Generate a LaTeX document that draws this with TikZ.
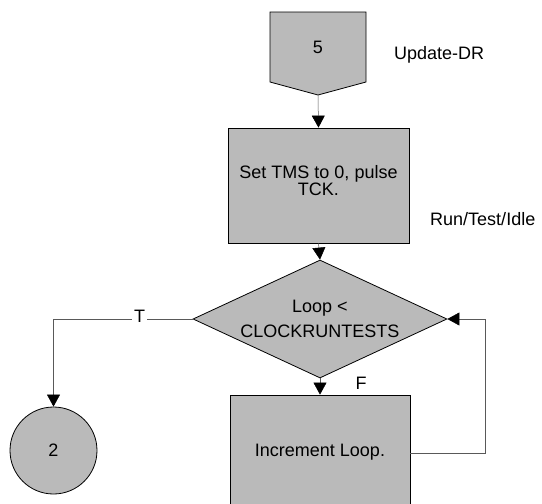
\documentclass[tikz,border=0pt]{standalone}
\usepackage{fontspec}
\setmainfont{Liberation Sans}
\usetikzlibrary{shapes.geometric,arrows.meta}
\tikzset{
  shade/.style={fill=black!27,draw=black,line width=0.8pt},
  procbox/.style={shade,rectangle,inner sep=0pt},
  decbox/.style={shade,diamond,aspect=2.15,inner sep=0pt,align=center},
  conbox/.style={shade,circle,inner sep=0pt},
  lbl/.style={font=\fontsize{18}{15}\selectfont,inner sep=0pt,align=center},
  conn/.style={draw=black!65,line width=0.5pt},
  arr/.style={conn,-{Triangle[length=12pt,width=13pt,fill=black,color=black]}}
}
\begin{document}
\begin{tikzpicture}[x=1pt,y=-1pt]
\useasboundingbox (0,0) rectangle (542,504);
% off-page connector 5
\draw[shade] (270,12) -- (366,12) -- (366,82) -- (318,95) -- (270,82) -- cycle;
\coordinate (p5bot) at (318,95);
\node[lbl] (n5) at (318,47) {5};
\node[lbl,anchor=base west] (upd) at (394,59) {Update-DR};
% process box 1
\node[procbox,minimum width=181pt,minimum height=115pt] (box1) at (318.5,185.5) {};
\node[lbl] (box1t) at (318.5,180.5) {Set TMS to 0, pulse\\TCK.};
\node[lbl,anchor=base west] (rti) at (430,225) {Run/Test/Idle};
% decision
\node[decbox,minimum width=254pt,minimum height=118pt,font=\fontsize{18}{15}\selectfont] (dia) at (320,319) {Loop <\\[8pt]CLOCKRUNTESTS};
% process box 2
\node[procbox,minimum width=180pt,minimum height=117pt] (box2) at (320,453.5) {};
\node[lbl] (box2t) at (320,452) {Increment Loop.};
% connector circle 2
\node[conbox,minimum size=87pt] (circ) at (53.5,450.5) {};
\node[lbl] (c2t) at (53.5,450.5) {2};
% connectors
\draw[arr] (p5bot) -- (box1.north);
\draw[arr] (box1.south) -- (dia.north);
\draw[arr] (dia.south) -- (box2.north);
\node[lbl,anchor=base] (flbl) at (361,389) {F};
\draw[arr] (dia.west) -| (circ.north)
  node[pos=0.19,lbl,fill=white,inner xsep=2pt,yshift=3pt] (tlbl) {T};
\draw[arr] (box2.east) -- ++(75,0) |- (dia.east);
\end{tikzpicture}
\end{document}
